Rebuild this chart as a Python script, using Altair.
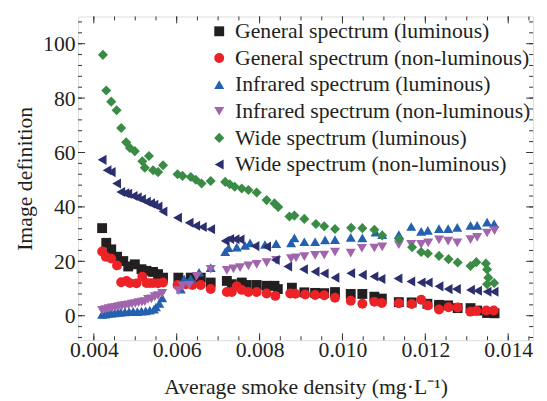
import altair as alt
import pandas as pd

# ---- data ----
series_names = [
    "General spectrum (luminous)",
    "General spectrum (non-luminous)",
    "Infrared spectrum (luminous)",
    "Infrared spectrum (non-luminous)",
    "Wide spectrum (luminous)",
    "Wide spectrum (non-luminous)",
]
colors = ["#231f20", "#ec2227", "#2460b0", "#a165ad", "#3a8b45", "#2c2f6e"]
shapes = ["square", "circle", "triangle-up", "triangle-down", "diamond", "triangle-left"]
marker_sizes = [100, 105, 135, 135, 120, 135]

gen_lum_x = [0.0042, 0.0043, 0.00442, 0.00456, 0.00471, 0.00483, 0.00499, 0.00515, 0.00527, 0.00543,
             0.00555, 0.00567, 0.00604, 0.00634, 0.00658, 0.00682, 0.00721, 0.00733, 0.00757, 0.00769,
             0.00793, 0.00817, 0.00836, 0.00844, 0.00878, 0.00908, 0.00934, 0.00956, 0.00982, 0.0102,
             0.01048, 0.01077, 0.01095, 0.01136, 0.01167, 0.01205, 0.01233, 0.01255, 0.01278, 0.01309,
             0.01325, 0.01349, 0.01367]
gen_lum_y = [32.2, 26.8, 24.4, 21.7, 20.1, 18.1, 18.9, 17.1, 16.5, 16.1,
             15.3, 14.0, 14.0, 14.0, 14.0, 12.2, 12.8, 11.6, 12.2, 11.3,
             11.3, 11.0, 11.0, 9.8, 10.3, 8.6, 8.4, 8.3, 8.7, 8.0,
             8.0, 7.0, 6.3, 5.0, 4.9, 4.4, 4.0, 3.8, 2.8, 2.8,
             1.9, 1.0, 0.9]

gen_non_x = [0.0042, 0.00429, 0.00442, 0.00456, 0.00466, 0.00479, 0.00487, 0.00503, 0.00517, 0.00527,
             0.00535, 0.00543, 0.00555, 0.00567, 0.00602, 0.00622, 0.00638, 0.00658, 0.00682, 0.00721,
             0.00733, 0.00745, 0.00757, 0.00773, 0.00793, 0.00817, 0.00838, 0.00874, 0.00886, 0.0091,
             0.00934, 0.00956, 0.00982, 0.0102, 0.01048, 0.01077, 0.01095, 0.01136, 0.01167, 0.0119,
             0.01206, 0.01233, 0.01256, 0.01278, 0.01309, 0.01323, 0.01347, 0.01365]
gen_non_y = [23.6, 21.7, 21.0, 18.5, 12.3, 12.8, 12.0, 11.9, 14.3, 12.0,
             12.0, 12.0, 11.9, 12.2, 11.3, 11.6, 11.3, 11.3, 9.8, 8.7,
             8.7, 10.8, 9.5, 8.7, 8.7, 8.2, 7.3, 8.2, 8.1, 7.8,
             7.6, 7.5, 6.6, 5.5, 4.4, 5.1, 4.7, 4.6, 4.3, 5.9,
             3.8, 2.3, 3.1, 3.0, 1.5, 1.8, 1.9, 1.9]

ir_lum_x = [0.0042, 0.00428, 0.00435, 0.00442, 0.0045, 0.00458, 0.00465, 0.00475, 0.00485, 0.00495,
            0.00505, 0.00515, 0.00525, 0.00535, 0.00545, 0.0055, 0.00558, 0.00565, 0.0061, 0.00618,
            0.00634, 0.00654, 0.00682, 0.00717, 0.00725, 0.00745, 0.00765, 0.00777, 0.00813, 0.0084,
            0.00876, 0.00884, 0.00908, 0.00934, 0.00958, 0.00982, 0.0102, 0.01048, 0.0108, 0.01096,
            0.01136, 0.01166, 0.0119, 0.01206, 0.01233, 0.01255, 0.01277, 0.01309, 0.01325, 0.01349,
            0.01366]
ir_lum_y = [0.5, 0.6, 0.8, 0.9, 1.0, 1.2, 1.3, 1.4, 1.5, 1.6,
            1.5, 1.7, 1.8, 2.0, 2.4, 3.2, 4.5, 6.5, 9.8, 13.5,
            13.6, 16.0, 17.7, 23.5, 25.0, 25.2, 25.8, 26.8, 26.2, 26.5,
            26.8, 28.6, 27.2, 27.2, 27.9, 28.0, 28.8, 28.6, 30.7, 29.8,
            29.8, 32.8, 31.0, 31.4, 32.0, 32.0, 32.5, 33.2, 33.2, 34.4,
            33.8]

ir_non_x = [0.0042, 0.00428, 0.00436, 0.00444, 0.00452, 0.0046, 0.00468, 0.00476, 0.00484, 0.00492,
            0.005, 0.00508, 0.00516, 0.00523, 0.00531, 0.00539, 0.00547, 0.00555, 0.00565, 0.00604,
            0.00614, 0.0063, 0.00648, 0.00682, 0.00721, 0.00737, 0.00753, 0.00773, 0.00793, 0.00817,
            0.0084, 0.00876, 0.00888, 0.00908, 0.00934, 0.00956, 0.00982, 0.0102, 0.01047, 0.01077,
            0.01096, 0.01136, 0.01166, 0.0119, 0.01207, 0.01233, 0.01255, 0.01277, 0.01309, 0.01325,
            0.01349, 0.01367]
ir_non_y = [2.0, 2.3, 2.6, 2.9, 3.1, 3.4, 3.6, 3.8, 4.0, 4.3,
            4.5, 4.8, 5.0, 5.2, 6.0, 6.2, 7.0, 7.4, 8.2, 9.2,
            11.0, 11.2, 14.5, 17.1, 16.7, 17.2, 17.7, 18.3, 18.9, 19.5,
            20.4, 21.0, 21.3, 21.7, 22.2, 22.3, 23.4, 23.0, 24.8, 24.9,
            25.3, 26.1, 26.2, 26.2, 26.8, 27.9, 27.4, 26.8, 28.0, 28.8,
            30.4, 31.3]

wide_lum_x = [0.00422, 0.0043, 0.00442, 0.00455, 0.00466, 0.00478, 0.00487, 0.00499, 0.00517, 0.00533,
              0.00523, 0.00543, 0.00555, 0.00567, 0.00602, 0.00614, 0.00634, 0.00646, 0.0066, 0.00682,
              0.00717, 0.00728, 0.0074, 0.00757, 0.00773, 0.00793, 0.00817, 0.00836, 0.00845, 0.00872,
              0.00884, 0.00908, 0.00936, 0.00956, 0.00982, 0.01021, 0.01048, 0.01077, 0.01096, 0.01137,
              0.01168, 0.0119, 0.01206, 0.01233, 0.01256, 0.01278, 0.01309, 0.01323, 0.01346, 0.01349,
              0.01352, 0.01349, 0.01366]
wide_lum_y = [95.9, 82.8, 78.7, 75.5, 69.0, 63.8, 61.7, 60.5, 56.8, 58.7,
              54.4, 53.5, 52.8, 55.3, 52.0, 51.4, 51.0, 50.0, 48.6, 49.5,
              49.2, 48.3, 47.4, 46.8, 46.2, 45.3, 42.5, 41.3, 40.0, 36.5,
              36.8, 35.6, 33.7, 32.9, 31.9, 32.3, 32.2, 31.6, 29.5, 28.2,
              25.2, 23.4, 22.9, 22.0, 20.8, 19.6, 18.3, 19.7, 19.2, 17.0,
              14.0, 11.6, 12.0]

wide_non_x = [0.0042, 0.00432, 0.00442, 0.00455, 0.00465, 0.00475, 0.00482, 0.00495, 0.00505, 0.00515,
              0.00527, 0.00537, 0.00545, 0.00555, 0.00567, 0.00602, 0.0063, 0.00646, 0.00662, 0.00682,
              0.00717, 0.00728, 0.00741, 0.00753, 0.00789, 0.00817, 0.00838, 0.00868, 0.00906, 0.00934,
              0.00956, 0.00982, 0.0102, 0.01048, 0.01076, 0.01093, 0.01134, 0.01165, 0.0119, 0.01207,
              0.01233, 0.01255, 0.01275, 0.01309, 0.01326, 0.01349, 0.01366]
wide_non_y = [57.3, 53.5, 52.8, 48.6, 45.5, 45.0, 44.8, 44.0, 43.5, 42.8,
              41.9, 41.3, 40.8, 40.1, 38.3, 36.0, 34.2, 33.1, 32.6, 31.8,
              27.5, 28.2, 28.1, 28.0, 25.6, 25.4, 20.5, 18.1, 17.1, 16.2,
              15.5, 14.0, 15.6, 15.0, 14.4, 13.5, 13.7, 12.6, 12.2, 12.2,
              10.8, 9.8, 9.8, 9.5, 9.2, 8.8, 8.8]

x_major = [0.004, 0.006, 0.008, 0.010, 0.012, 0.014]
x_minor = [0.0040, 0.0045, 0.0050, 0.0055, 0.0060, 0.0065, 0.0070, 0.0075, 0.0080, 0.0085,
           0.0090, 0.0095, 0.0100, 0.0105, 0.0110, 0.0115, 0.0120, 0.0125, 0.0130, 0.0135, 0.0140, 0.0145]
y_major = [0, 20, 40, 60, 80, 100]
y_minor = [-8, -4, 0, 4, 8, 12, 16, 20, 24, 28, 32, 36, 40, 44, 48, 52, 56, 60, 64, 68, 72, 76,
           80, 84, 88, 92, 96, 100, 104, 108]

X_DOMAIN = [0.00362, 0.0146]
Y_DOMAIN = [-9, 110]
W, H = 461, 328

# ---- build table ----
all_x = [gen_lum_x, gen_non_x, ir_lum_x, ir_non_x, wide_lum_x, wide_non_x]
all_y = [gen_lum_y, gen_non_y, ir_lum_y, ir_non_y, wide_lum_y, wide_non_y]
rows = []
for i, (name, xv_list, yv_list) in enumerate(zip(series_names, all_x, all_y)):
    for xv, yv in zip(xv_list, yv_list):
        rows.append({"x": xv, "y": yv, "series": name, "order": i})
df = pd.DataFrame(rows)

FONT = "Liberation Serif"
TXT = "#231f20"

xs = alt.Scale(domain=X_DOMAIN, nice=False, zero=False)
ys = alt.Scale(domain=Y_DOMAIN, nice=False, zero=False)

points = alt.Chart(df).mark_point(filled=True, opacity=1, strokeWidth=0).encode(
    x=alt.X("x:Q", scale=xs,
            axis=alt.Axis(values=x_major, format=".3f", ticks=False, domain=False, grid=False,
                          labelFont=FONT, labelFontSize=22, labelColor=TXT, labelPadding=0,
                          title="Average smoke density (mg·L⁻¹)", titleFont=FONT, titleFontSize=22,
                          titleFontWeight="normal", titleColor=TXT, titlePadding=16)),
    y=alt.Y("y:Q", scale=ys,
            axis=alt.Axis(values=y_major, ticks=False, domain=False, grid=False,
                          labelFont=FONT, labelFontSize=22, labelColor=TXT, labelPadding=3,
                          title="Image definition", titleFont=FONT, titleFontSize=22,
                          titleFontWeight="normal", titleColor=TXT, titlePadding=6)),
    color=alt.Color("series:N", scale=alt.Scale(domain=series_names, range=colors),
                    legend=alt.Legend(title=None, orient="none", legendX=132, legendY=4,
                                      labelFont=FONT, labelFontSize=22, labelColor=TXT,
                                      symbolSize=60, symbolStrokeWidth=0, labelOffset=5,
                                      rowPadding=5, padding=0, labelLimit=400)),
    shape=alt.Shape("series:N", scale=alt.Scale(domain=series_names, range=shapes)),
    size=alt.Size("series:N", scale=alt.Scale(domain=series_names, range=marker_sizes), legend=None),
    order=alt.Order("order:Q"),
)

tick_color = "#333333"
ymaj_df = pd.DataFrame({"v": y_major})
ymin_df = pd.DataFrame({"v": y_minor})
xmaj_df = pd.DataFrame({"v": x_major})
xmin_df = pd.DataFrame({"v": x_minor})

def yticks(d, length):
    left = alt.Chart(d).mark_rule(color=tick_color, strokeWidth=1).encode(
        y=alt.Y("v:Q", scale=ys), x=alt.value(0), x2=alt.value(length))
    right = alt.Chart(d).mark_rule(color=tick_color, strokeWidth=1).encode(
        y=alt.Y("v:Q", scale=ys), x=alt.value(W), x2=alt.value(W - length))
    return left + right

def xticks(d, length):
    bottom = alt.Chart(d).mark_rule(color=tick_color, strokeWidth=1).encode(
        x=alt.X("v:Q", scale=xs), y=alt.value(H), y2=alt.value(H - length))
    top = alt.Chart(d).mark_rule(color=tick_color, strokeWidth=1).encode(
        x=alt.X("v:Q", scale=xs), y=alt.value(0), y2=alt.value(length))
    return bottom + top

chart = alt.layer(
    yticks(ymin_df, 4), yticks(ymaj_df, 7), xticks(xmin_df, 4), xticks(xmaj_df, 7), points
).properties(
    width=W, height=H,
    autosize=alt.AutoSizeParams(type="none"),
    padding={"left": 71, "top": 6, "right": 6, "bottom": 60},
).configure_view(
    stroke="#333333", strokeWidth=1
).configure(background="white")

chart.save("out.html", embed_options={"renderer": "svg", "actions": False})
